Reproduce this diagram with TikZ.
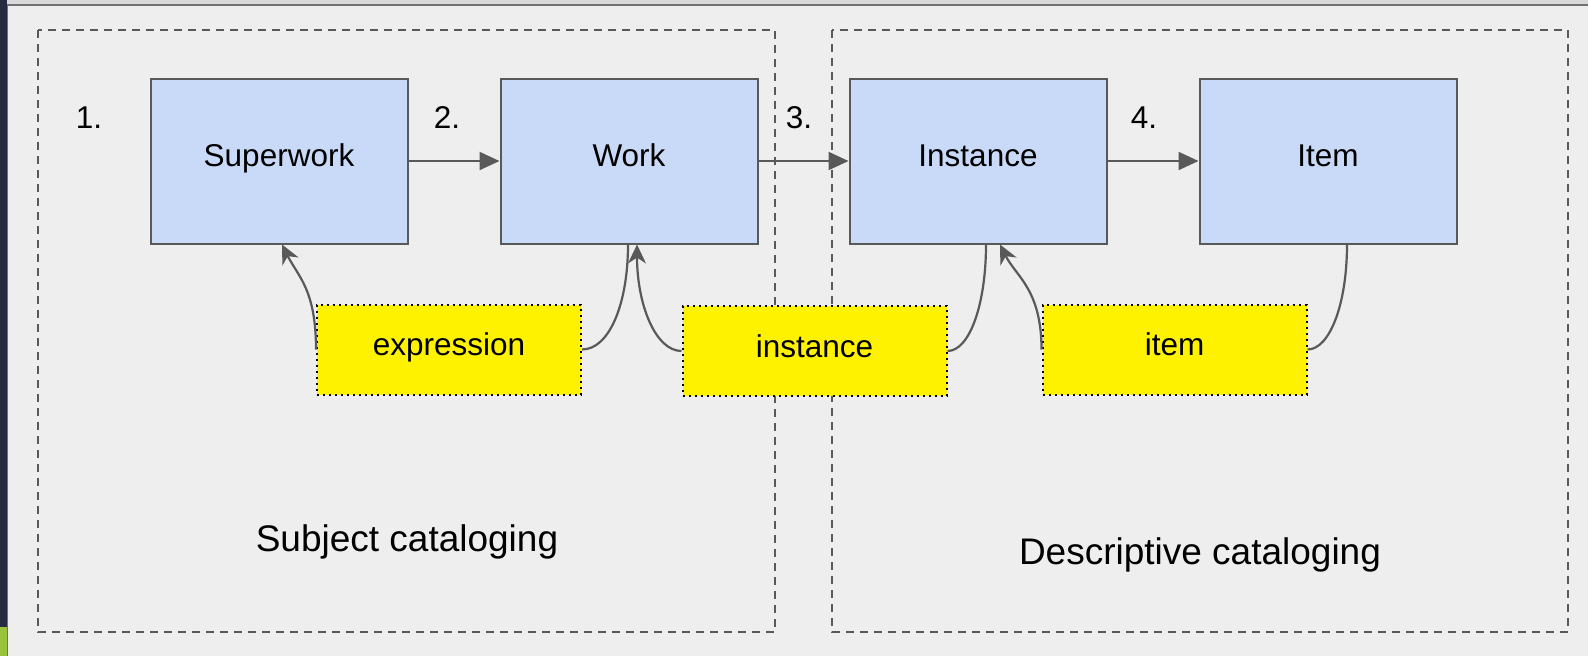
\documentclass[tikz,border=0pt]{standalone}
\usepackage{fontspec}
\setmainfont{Liberation Sans}
\usetikzlibrary{arrows.meta}
\definecolor{panel}{HTML}{EEEEEE}
\definecolor{boxblue}{HTML}{C9DAF8}
\definecolor{edge}{HTML}{595959}
\definecolor{navy}{HTML}{262B40}
\definecolor{leaf}{HTML}{9BC23C}
\definecolor{chrome}{HTML}{D8D8D8}
\definecolor{frameline}{HTML}{707070}
\begin{document}
\begin{tikzpicture}[x=1pt,y=1pt,
  stagebox/.style={draw=edge, fill=boxblue, line width=2pt, minimum width=257pt, minimum height=165pt,
    inner sep=0pt, font=\fontsize{31.5}{38}\selectfont, text height=22pt, text depth=12pt},
  tagbox/.style={draw=black, fill=yellow, line width=2pt, dash pattern=on 2pt off 4pt,
    minimum width=264pt, minimum height=90pt, inner sep=0pt,
    font=\fontsize{31.5}{38}\selectfont, text height=22pt, text depth=10pt},
  regionbox/.style={draw=edge, line width=2pt, dash pattern=on 8pt off 6pt},
  flow/.style={draw=edge, line width=2.2pt, -{Triangle[length=20pt 0 0,width=18pt 0 0]}},
  link/.style={draw=edge, line width=2.2pt},
  linkarrow/.style={draw=edge, line width=2.2pt, -{Stealth[length=19pt 0 0,width=18pt 0 0,inset=6pt]}},
  numlabel/.style={font=\fontsize{31.5}{38}\selectfont, inner sep=0pt},
  sectionlabel/.style={font=\fontsize{37}{44}\selectfont, inner sep=0pt}
]
\useasboundingbox (0,0) rectangle (1588,-656);
% window chrome
\fill[panel] (0,0) rectangle (1588,-656);
\fill[chrome] (7,0) rectangle (1588,-4);
\fill[navy] (0,0) rectangle (7,-656);
\fill[leaf] (0,-627) rectangle (7,-656);
\draw[frameline, line width=2pt] (7,-5) -- (1588,-5);
\draw[frameline, line width=1.5pt] (7.5,-5) -- (7.5,-656);

% regions
\draw[regionbox] (38,-30) rectangle (775,-632);
\draw[regionbox] (832,-30) rectangle (1568,-632);

% stage boxes
\node[stagebox] (superwork) at (279,-161) {Superwork};
\node[stagebox] (work) at (629,-161) {Work};
\node[stagebox] (instance) at (978,-161) {Instance};
\node[stagebox] (item) at (1328,-161) {Item};

% numbers
\node[numlabel] (n1) at (89,-118) {1.};
\node[numlabel] (n2) at (447,-118) {2.};
\node[numlabel] (n3) at (799,-118) {3.};
\node[numlabel] (n4) at (1144,-118) {4.};

% main flow
\draw[flow] (superwork.east) -- (work.west);
\draw[flow] (work.east) -- (instance.west);
\draw[flow] (instance.east) -- (item.west);

% tags
\node[tagbox] (texpr) at (449,-349.5) {expression};
\node[tagbox] (tinst) at (814.5,-351) {instance};
\node[tagbox] (titem) at (1174.5,-349.5) {item};

% tag links
\draw[linkarrow] (texpr.west) .. controls +(0,60) and +(16,-32) .. ([xshift=3pt]superwork.south);
\draw[link] (texpr.east) .. controls +(27,0) and +(0,-60) .. ([xshift=-1pt]work.south);
\draw[linkarrow] (tinst.west) .. controls +(-26,0) and +(0,-60) .. ([xshift=8pt]work.south);
\draw[link] (tinst.east) .. controls +(22,0) and +(0,-60) .. ([xshift=8pt]instance.south);
\draw[linkarrow] (titem.west) .. controls +(0,60) and +(16,-32) .. ([xshift=22pt]instance.south);
\draw[link] (titem.east) .. controls +(22,0) and +(0,-60) .. ([xshift=19pt]item.south);

% section labels
\node[sectionlabel] (subj) at (407,-542) {Subject cataloging};
\node[sectionlabel] (desc) at (1200,-555) {Descriptive cataloging};
\end{tikzpicture}
\end{document}
